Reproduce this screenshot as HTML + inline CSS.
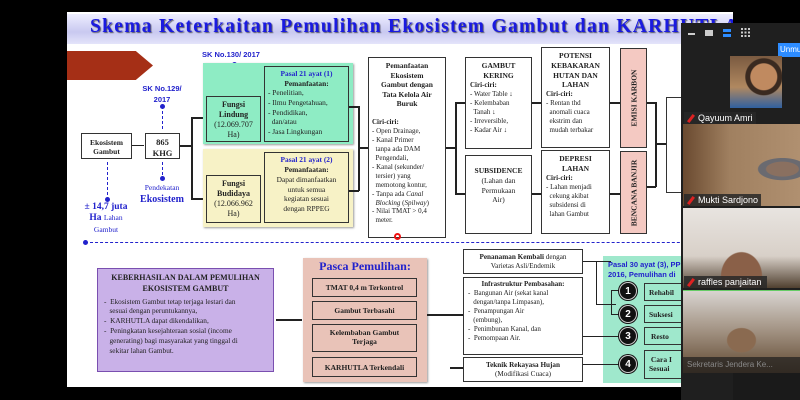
<!DOCTYPE html>
<html><head><meta charset="utf-8"><style>
*{margin:0;padding:0;box-sizing:border-box}
body{width:800px;height:400px;background:#000;position:relative;overflow:hidden;font-family:"Liberation Serif",serif;color:#222}
.a{position:absolute}
.bx{position:absolute;border:1.3px solid #333;background:#fff;text-align:center;font-size:7.5px;line-height:1.25}
b{font-weight:bold}
.l{text-align:left}
.blue{color:#2222cc}
.ln{position:absolute;background:#222}
.cir{position:absolute;width:18px;height:18px;border-radius:50%;background:#111;color:#fff;font:bold 10px "Liberation Sans",sans-serif;text-align:center;line-height:18px;border:1.5px solid #ccc;box-shadow:0 0 0 1px #111}
.lbl{position:absolute;background:rgba(40,40,40,.85);color:#fff;font:9px "Liberation Sans",sans-serif;padding:1px 3px 1px 14px}
.lbl:before{content:"";position:absolute;left:3px;top:2px;width:8px;height:9px;background:#d22;clip-path:polygon(0 80%,70% 0,100% 20%,30% 100%)}
.dot{position:absolute;width:5px;height:5px;border-radius:50%;background:#22c}
</style></head><body>
<div class="a" style="left:67px;top:12px;width:666px;height:375px;background:#fff"></div>
<div class="a" style="left:67px;top:14px;width:666px;height:30px;background:linear-gradient(#eeeeff,#c9c9f0 60%,#e4e4fa)"></div>
<div class="a" style="left:90px;top:16px;font:bold 19.5px 'Liberation Serif',serif;letter-spacing:1.3px;color:#1a1ae0;text-shadow:1px 1px 1px #556;white-space:nowrap">Skema Keterkaitan Pemulihan Ekosistem Gambut dan KARHUTLA</div>
<div class="a" style="left:67px;top:51px;width:86px;height:29px;background:#a52f16;clip-path:polygon(0 0,80% 0,100% 50%,80% 100%,0 100%)"></div>
<div class="a blue" style="left:202px;top:50px;font:bold 7.5px 'Liberation Sans',sans-serif">SK No.130/ 2017</div>
<div class="dot" style="left:232px;top:62px"></div>
<div class="a" style="left:234px;top:64px;height:22px;border-left:1.5px dashed #22c"></div>
<div class="a blue" style="left:140px;top:84px;width:44px;text-align:center;font:bold 7.5px/1.4 'Liberation Sans',sans-serif">SK No.129/<br>2017</div>
<div class="dot" style="left:160px;top:104px"></div>
<div class="a" style="left:162px;top:106px;height:23px;border-left:1.5px dashed #22c"></div>
<div class="bx" style="left:81px;top:133px;width:51px;height:26px;padding-top:4px;font-size:7.5px"><b>Ekosistem<br>Gambut</b></div>
<div class="bx" style="left:145px;top:133px;width:35px;height:26px;padding-top:3px;font-size:8.5px"><b>865<br>KHG</b></div>
<div class="ln" style="left:132px;top:145px;width:12px;height:1px"></div>
<div class="ln" style="left:180px;top:145px;width:12px;height:1.5px"></div>
<div class="ln" style="left:191px;top:117px;width:1.5px;height:82px"></div>
<div class="ln" style="left:191px;top:117px;width:15px;height:1.5px"></div>
<div class="ln" style="left:191px;top:198px;width:15px;height:1.5px"></div>
<div class="a" style="left:107px;top:162px;height:38px;border-left:1.5px dashed #22c"></div>
<div class="dot" style="left:105px;top:197px"></div>
<div class="a" style="left:162px;top:162px;height:18px;border-left:1.5px dashed #22c"></div>
<div class="dot" style="left:160px;top:176px"></div>
<div class="a blue" style="left:76px;top:202px;width:60px;text-align:center;font:bold 9.5px/1.2 'Liberation Serif',serif">± 14,7 juta<br>Ha <span style="font-weight:normal;font-size:7.5px">Lahan</span><br><span style="font-weight:normal;font-size:7.5px">Gambut</span></div>
<div class="a blue" style="left:134px;top:183px;width:56px;text-align:center;font:7.5px/1.3 'Liberation Serif',serif">Pendekatan<br><b style="font-size:10px">Ekosistem</b></div>
<div class="a" style="left:203px;top:63px;width:150px;height:81px;background:#8eecc4;box-shadow:1px 1px 2px #999"></div>
<div class="bx" style="left:206px;top:96px;width:55px;height:46px;background:#8eecc4;padding-top:3px;font-size:8px"><b>Fungsi<br>Lindung</b><br>(12.069.707<br>Ha)</div>
<div class="bx l" style="left:264px;top:66px;width:85px;height:76px;background:#8eecc4;padding:2px 3px;font-size:7.4px;line-height:1.3"><div style="text-align:center"><b class="blue">Pasal 21 ayat (1)</b><br><b>Pemanfaatan:</b></div>- Penelitian,<br>- Ilmu Pengetahuan,<br>- Pendidikan,<br>&nbsp; dan/atau<br>- Jasa Lingkungan</div>
<div class="a" style="left:203px;top:149px;width:150px;height:78px;background:#f7f2c6;box-shadow:1px 1px 2px #999"></div>
<div class="bx" style="left:206px;top:175px;width:55px;height:48px;background:#f7f2c6;padding-top:3px;font-size:8px"><b>Fungsi<br>Budidaya</b><br>(12.066.962<br>Ha)</div>
<div class="bx" style="left:264px;top:152px;width:85px;height:71px;background:#f7f2c6;padding:2px 3px;font-size:7.4px;line-height:1.33"><b class="blue">Pasal 21 ayat (2)</b><br><b>Pemanfaatan:</b><br>Dapat dimanfaatkan<br>untuk semua<br>kegiatan sesuai<br>dengan RPPEG</div>
<div class="ln" style="left:349px;top:106px;width:10px;height:1.5px"></div>
<div class="ln" style="left:349px;top:190px;width:10px;height:1.5px"></div>
<div class="ln" style="left:358px;top:106px;width:1.5px;height:85px"></div>
<div class="ln" style="left:358px;top:147px;width:10px;height:1.5px"></div>
<div class="bx l" style="left:368px;top:57px;width:78px;height:181px;padding:3px 3px;font-size:7px;line-height:1.28"><div style="text-align:center;font-weight:bold;font-size:7.5px">Pemanfaatan<br>Ekosistem<br>Gambut dengan<br>Tata Kelola Air<br>Buruk</div><br><b>Ciri-ciri:</b><br>- Open Drainage,<br>- Kanal Primer<br>&nbsp; tanpa ada DAM<br>&nbsp; Pengendali,<br>- Kanal (sekunder/<br>&nbsp; tersier) yang<br>&nbsp; memotong kontur,<br>- Tanpa ada <i>Canal<br>&nbsp; Blocking</i> (<i>Spilway</i>)<br>- Nilai TMAT &gt; 0,4<br>&nbsp; meter.</div>
<div class="ln" style="left:446px;top:147px;width:9px;height:1.5px"></div>
<div class="ln" style="left:455px;top:102px;width:1.5px;height:92px"></div>
<div class="ln" style="left:455px;top:102px;width:10px;height:1.5px"></div>
<div class="ln" style="left:455px;top:193px;width:10px;height:1.5px"></div>
<div class="bx l" style="left:465px;top:57px;width:67px;height:92px;padding:3px 4px;font-size:7px;line-height:1.3"><div style="text-align:center;font-weight:bold;font-size:7.5px">GAMBUT<br>KERING</div><b>Ciri-ciri:</b><br>- Water Table ↓<br>- Kelembaban<br>&nbsp; Tanah ↓<br>- Irreversible,<br>- Kadar Air ↓</div>
<div class="bx" style="left:465px;top:155px;width:67px;height:79px;padding-top:10px;font-size:7.5px;line-height:1.3"><b>SUBSIDENCE</b><br>(Lahan dan<br>Permukaan<br>Air)</div>
<div class="ln" style="left:532px;top:102px;width:9px;height:1.5px"></div>
<div class="ln" style="left:532px;top:193px;width:9px;height:1.5px"></div>
<div class="bx l" style="left:541px;top:47px;width:69px;height:101px;padding:3px 4px;font-size:7px;line-height:1.3"><div style="text-align:center;font-weight:bold;font-size:7.5px">POTENSI<br>KEBAKARAN<br>HUTAN DAN<br>LAHAN</div><b>Ciri-ciri:</b><br>- Rentan thd<br>&nbsp; anomali cuaca<br>&nbsp; ekstrim dan<br>&nbsp; mudah terbakar</div>
<div class="bx l" style="left:541px;top:150px;width:69px;height:84px;padding:3px 4px;font-size:7px;line-height:1.3"><div style="text-align:center;font-weight:bold;font-size:7.5px">DEPRESI<br>LAHAN</div><b>Ciri-ciri:</b><br>- Lahan menjadi<br>&nbsp; cekung akibat<br>&nbsp; subsidensi di<br>&nbsp; lahan Gambut</div>
<div class="ln" style="left:610px;top:102px;width:10px;height:1.5px"></div>
<div class="ln" style="left:610px;top:193px;width:10px;height:1.5px"></div>
<div class="bx" style="left:620px;top:48px;width:27px;height:100px;background:#f4c9c2"><div style="position:absolute;left:50%;top:50%;transform:translate(-50%,-50%) rotate(-90deg);white-space:nowrap;font-weight:bold;font-size:7.5px">EMISI KARBON</div></div>
<div class="bx" style="left:620px;top:151px;width:27px;height:83px;background:#f4c9c2"><div style="position:absolute;left:50%;top:50%;transform:translate(-50%,-50%) rotate(-90deg);white-space:nowrap;font-weight:bold;font-size:7.5px">BENCANA BANJIR</div></div>
<div class="ln" style="left:647px;top:102px;width:9px;height:1.5px"></div>
<div class="ln" style="left:647px;top:186px;width:9px;height:1.5px"></div>
<div class="ln" style="left:655px;top:102px;width:1.5px;height:85px"></div>
<div class="ln" style="left:655px;top:143px;width:11px;height:1.5px"></div>
<div class="bx" style="left:666px;top:97px;width:40px;height:96px"></div>
<div class="a" style="left:85px;top:242px;width:645px;border-top:1.5px dashed #22c"></div>
<div class="a" style="left:83px;top:240px;width:5px;height:5px;border-radius:50%;background:#22c"></div>
<div class="a" style="left:394px;top:233px;width:7px;height:7px;border-radius:50%;border:2px solid #e11"></div>
<div class="bx l" style="left:97px;top:268px;width:177px;height:104px;background:#c9b1e8;border-color:#7a4fb0;padding:4px 6px;font-size:7.3px;line-height:1.35"><div style="text-align:center;font-weight:bold;font-size:8px">KEBERHASILAN DALAM PEMULIHAN<br>EKOSISTEM GAMBUT</div><div style="margin-top:2px">- &nbsp;Ekosistem Gambut tetap terjaga lestari dan<br>&nbsp;&nbsp;&nbsp;sesuai dengan peruntukannya,<br>- &nbsp;KARHUTLA dapat dikendalikan,<br>- &nbsp;Peningkatan kesejahteraan sosial (income<br>&nbsp;&nbsp;&nbsp;generating) bagi masyarakat yang tinggal di<br>&nbsp;&nbsp;&nbsp;sekitar lahan Gambut.</div></div>
<div class="ln" style="left:276px;top:319px;width:26px;height:1.5px"></div>
<div class="a" style="left:303px;top:258px;width:124px;height:124px;background:#e9c3b8;box-shadow:1px 1px 2px #999"></div>
<div class="a blue" style="left:303px;top:259px;width:124px;text-align:center;font:bold 12px 'Liberation Serif',serif">Pasca Pemulihan:</div>
<div class="bx" style="left:312px;top:278px;width:105px;height:19px;background:#e9c3b8;padding-top:4px"><b>TMAT 0,4 m Terkontrol</b></div>
<div class="bx" style="left:312px;top:301px;width:105px;height:19px;background:#e9c3b8;padding-top:4px"><b>Gambut Terbasahi</b></div>
<div class="bx" style="left:312px;top:324px;width:105px;height:28px;background:#e9c3b8;padding-top:3px"><b>Kelembaban Gambut<br>Terjaga</b></div>
<div class="bx" style="left:312px;top:357px;width:105px;height:20px;background:#e9c3b8;padding-top:5px"><b>KARHUTLA Terkendali</b></div>
<div class="ln" style="left:427px;top:314px;width:36px;height:1.5px"></div>
<div class="ln" style="left:450px;top:367px;width:13px;height:1.5px"></div>
<div class="bx" style="left:463px;top:249px;width:120px;height:25px;padding-top:3px;font-size:7.2px;line-height:1.3"><b>Penanaman Kembali</b> dengan<br>Varietas Asli/Endemik</div>
<div class="bx l" style="left:463px;top:277px;width:120px;height:78px;padding:2px 4px;font-size:7px;line-height:1.28"><div style="text-align:center"><b>Infrastruktur Pembasahan:</b></div>- &nbsp;Bangunan Air (sekat kanal<br>&nbsp;&nbsp;&nbsp;dengan/tanpa Limpasan),<br>- &nbsp;Penampungan Air<br>&nbsp;&nbsp;&nbsp;(embung),<br>- &nbsp;Penimbunan Kanal, dan<br>- &nbsp;Pemompaan Air.</div>
<div class="bx" style="left:463px;top:357px;width:120px;height:25px;padding-top:3px;font-size:7.2px;line-height:1.3"><b>Teknik Rekayasa Hujan</b><br>(Modifikasi Cuaca)</div>
<div class="a" style="left:603px;top:256px;width:128px;height:127px;background:#9fe8cc"></div>
<div class="a blue" style="left:608px;top:260px;font:bold 7.5px/1.3 'Liberation Sans',sans-serif;white-space:nowrap">Pasal 30 ayat (3), PP<br>2016, Pemulihan di</div>
<div class="ln" style="left:583px;top:261px;width:28px;height:1px"></div>
<div class="ln" style="left:596px;top:261px;width:1px;height:44px"></div>
<div class="ln" style="left:596px;top:304px;width:20px;height:1px"></div>
<div class="ln" style="left:611px;top:290px;width:1px;height:25px"></div>
<div class="ln" style="left:611px;top:290px;width:8px;height:1px"></div>
<div class="ln" style="left:611px;top:314px;width:8px;height:1px"></div>
<div class="ln" style="left:583px;top:336px;width:36px;height:1px"></div>
<div class="ln" style="left:583px;top:364px;width:36px;height:1px"></div>
<div class="cir" style="left:619px;top:282px">1</div>
<div class="cir" style="left:619px;top:305px">2</div>
<div class="cir" style="left:619px;top:327px">3</div>
<div class="cir" style="left:619px;top:355px">4</div>
<div class="bx" style="left:644px;top:283px;width:50px;height:18px;background:#9fe8cc;padding:4px 0 0 4px;text-align:left"><b>Rehabil</b></div>
<div class="bx" style="left:644px;top:305px;width:50px;height:18px;background:#9fe8cc;padding:4px 0 0 4px;text-align:left"><b>Suksesi</b></div>
<div class="bx" style="left:644px;top:327px;width:50px;height:18px;background:#9fe8cc;padding:4px 0 0 6px;text-align:left"><b>Resto</b></div>
<div class="bx" style="left:644px;top:350px;width:50px;height:29px;background:#9fe8cc;padding:4px 0 0 4px;text-align:left"><b>&nbsp;Cara I<br>Sesuai</b></div>
<!-- right panel -->
<div class="a" style="left:733px;top:0;width:67px;height:23px;background:#000"></div>
<div class="a" style="left:681px;top:23px;width:119px;height:377px;background:#1f1f1f"></div>
<div class="a" style="left:688px;top:33px;width:7px;height:2px;background:#ccc"></div>
<div class="a" style="left:705px;top:30px;width:8px;height:6px;background:#ccc"></div>
<div class="a" style="left:723px;top:29px;width:8px;height:3px;background:#2d8cff"></div>
<div class="a" style="left:723px;top:34px;width:8px;height:3px;background:#2d8cff"></div>
<div class="a" style="left:741px;top:28px;width:9px;height:9px;background:repeating-linear-gradient(90deg,#ccc 0 2px,transparent 2px 3.5px),#1f1f1f;-webkit-mask:repeating-linear-gradient(#000 0 2px,transparent 2px 3.5px)"></div>
<div class="a" style="left:778px;top:43px;width:22px;height:14px;background:#2d8cff;color:#fff;font:8px 'Liberation Sans',sans-serif;padding:2px 2px">Unmu</div>
<div class="a" style="left:730px;top:56px;width:52px;height:52px;background:radial-gradient(circle at 65% 40%,#c08a60 0 13px,#3a2a20 14px 18px,transparent 19px),linear-gradient(#7a5a40,#b08860 60%,#3060a0)"></div>
<div class="lbl" style="left:684px;top:112px">Qayuum Amri</div>
<div class="a" style="left:683px;top:124px;width:117px;height:82px;background:radial-gradient(ellipse at 85% 55%,#8a7060 0 16px,#6a6a70 17px 24px,transparent 25px),linear-gradient(90deg,#6a4a30,#a08060 40%,#b09070)"></div>
<div class="lbl" style="left:684px;top:194px">Mukti Sardjono</div>
<div class="a" style="left:683px;top:208px;width:117px;height:80px;background:radial-gradient(ellipse at 50% 85%,#8a6048 0 20px,transparent 21px),linear-gradient(#e8e4e0,#d8d0c8 60%,#504030)"></div>
<div class="lbl" style="left:684px;top:276px;padding-right:6px">raffles panjaitan</div>
<div class="a" style="left:683px;top:290px;width:117px;height:83px;background:radial-gradient(ellipse at 50% 60%,#8a6a50 0 14px,transparent 15px),linear-gradient(#d8d4d0,#a09080 50%,#604830);border-top:1px solid #6c6"></div>
<div class="a" style="left:683px;top:357px;width:117px;height:16px;background:rgba(30,30,30,.7);color:#888;font:8px 'Liberation Sans',sans-serif;padding:3px 4px;white-space:nowrap;overflow:hidden">Sekretaris Jendera Ke...</div>
<div class="a" style="left:733px;top:373px;width:67px;height:27px;background:#1a1a1a"></div>
</body></html>
